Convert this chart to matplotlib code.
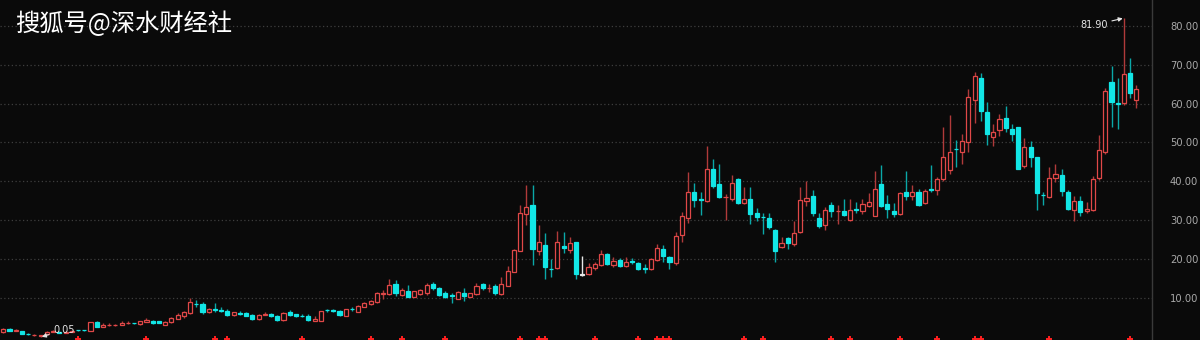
import matplotlib
matplotlib.use("Agg")
import matplotlib.pyplot as plt
import numpy as np

# ---- data ----
opens = [1.3, 2.0, 1.6, 1.5, 0.8, 0.4, 0.3, 0.8, 1.3, 1.4, 1.1, 1.4, 1.8, 1.8, 1.6, 3.9, 2.7, 3.0, 3.0, 3.2,
         3.5, 3.6, 3.3, 3.9, 4.2, 4.0, 3.1, 3.9, 4.7, 5.3, 6.1, 8.6, 8.5, 6.3, 7.2, 7.0, 6.8, 5.6, 6.2, 6.1,
         5.6, 4.6, 5.7, 5.9, 5.4, 4.4, 6.3, 5.8, 5.5, 5.5, 4.2, 4.2, 7.0, 6.9, 6.8, 5.4, 7.2, 6.5, 7.8, 8.4,
         8.9, 11.1, 11.0, 13.6, 10.8, 11.9, 10.4, 11.0, 11.4, 13.6, 12.5, 11.2, 10.7, 9.8, 11.4, 10.4, 11.0, 13.6, 12.5, 13.1,
         11.0, 13.2, 16.8, 22.2, 31.5, 33.9, 22.1, 23.7, 17.6, 17.8, 23.4, 22.4, 24.3, 16.0, 16.2, 17.7, 18.5, 21.3, 18.5, 19.8,
         18.3, 19.6, 19.1, 17.8, 17.5, 19.8, 22.6, 20.6, 19.1, 26.2, 30.5, 37.4, 35.6, 35.0, 43.1, 39.3, 35.9, 35.6, 40.6, 34.5,
         35.4, 31.8, 30.9, 30.5, 27.5, 23.2, 25.4, 23.9, 27.1, 35.0, 36.2, 30.5, 28.8, 33.9, 32.3, 32.4, 30.2, 32.8, 32.4, 33.8,
         31.1, 39.3, 34.2, 32.4, 31.5, 37.2, 36.2, 37.2, 34.4, 38.0, 37.8, 40.5, 42.9, 48.4, 47.6, 50.2, 60.8, 66.5, 57.9, 51.5,
         53.2, 56.2, 53.5, 53.9, 44.0, 48.8, 46.2, 36.6, 36.1, 40.8, 41.6, 37.4, 32.6, 35.0, 32.5, 32.6, 40.8, 47.6, 65.6, 60.2,
         60.2, 67.8, 60.9]
highs = [2.2, 2.2, 2.1, 1.6, 1.0, 0.7, 0.6, 1.5, 1.8, 1.5, 1.5, 1.8, 1.9, 1.9, 3.9, 4.2, 3.6, 3.5, 3.4, 4.0,
         4.2, 3.7, 4.2, 5.0, 4.4, 4.2, 4.1, 5.2, 6.2, 6.7, 9.9, 9.5, 9.0, 7.4, 8.8, 7.6, 7.3, 6.5, 6.8, 6.3,
         5.8, 5.9, 6.3, 6.2, 5.6, 6.4, 6.9, 6.0, 5.8, 6.0, 5.4, 6.8, 7.2, 7.2, 7.0, 7.3, 7.6, 8.2, 9.0, 9.6,
         11.6, 12.0, 14.8, 14.6, 12.6, 13.4, 11.9, 12.4, 14.0, 14.1, 12.9, 11.9, 11.2, 11.8, 12.5, 11.4, 14.0, 13.8, 13.6, 13.6,
         15.4, 18.3, 22.5, 33.9, 39.1, 39.1, 28.8, 26.8, 20.0, 27.3, 27.1, 25.6, 24.5, 20.8, 18.9, 19.4, 22.4, 21.6, 20.5, 20.3,
         20.5, 20.2, 19.3, 18.8, 20.3, 23.9, 23.6, 20.8, 27.1, 32.2, 42.5, 39.7, 37.4, 49.1, 45.7, 44.4, 36.7, 41.6, 40.8, 38.6,
         38.6, 33.1, 31.8, 31.8, 27.7, 25.6, 25.6, 29.9, 38.5, 40.2, 37.9, 31.8, 33.5, 34.8, 33.9, 35.6, 35.6, 34.8, 35.4, 37.1,
         42.7, 44.2, 36.5, 34.4, 37.3, 42.7, 39.1, 38.1, 38.1, 44.2, 41.2, 54.1, 57.1, 50.6, 52.2, 63.7, 68.0, 67.8, 60.5, 54.8,
         57.3, 59.3, 54.8, 54.0, 51.1, 50.4, 46.4, 37.4, 43.7, 44.5, 43.1, 37.8, 36.2, 36.2, 34.6, 41.5, 51.8, 63.9, 69.7, 66.5,
         81.9, 71.8, 64.8]
lows = [1.1, 1.5, 1.5, 0.8, 0.6, 0.3, 0.05, 0.7, 1.2, 1.0, 1.0, 1.3, 1.6, 1.6, 1.5, 2.6, 2.6, 2.9, 2.9, 3.1,
        3.4, 3.4, 3.2, 3.8, 3.4, 3.5, 3.0, 3.7, 4.5, 5.0, 6.0, 7.8, 5.8, 6.2, 6.5, 6.3, 5.5, 5.4, 5.6, 5.3,
        4.4, 4.4, 5.6, 5.2, 4.0, 4.2, 5.5, 5.2, 5.2, 4.0, 4.1, 4.1, 6.5, 6.5, 5.5, 5.3, 6.7, 6.4, 7.7, 8.3,
        8.8, 9.8, 10.9, 10.5, 10.6, 10.2, 10.3, 10.7, 10.9, 12.1, 10.6, 10.0, 8.8, 9.7, 9.3, 10.3, 10.9, 12.2, 11.5, 10.8,
        10.9, 13.0, 16.6, 22.0, 28.8, 18.5, 21.1, 14.8, 15.3, 17.5, 21.5, 21.7, 14.8, 15.6, 16.0, 17.2, 18.3, 18.5, 18.1, 18.0,
        18.1, 18.8, 17.2, 16.4, 17.3, 19.5, 19.4, 17.6, 18.5, 24.3, 29.2, 33.5, 31.4, 34.8, 38.4, 35.8, 30.1, 35.0, 34.2, 34.2,
        29.0, 29.9, 26.5, 27.7, 19.4, 22.9, 22.5, 23.5, 26.8, 33.7, 31.1, 27.9, 27.5, 30.8, 29.0, 31.2, 29.9, 31.8, 31.6, 33.5,
        31.0, 33.5, 30.5, 30.9, 31.3, 35.2, 35.2, 33.6, 34.1, 37.4, 36.5, 40.0, 42.0, 43.8, 44.6, 47.6, 55.1, 55.4, 49.4, 49.1,
        51.7, 52.8, 50.5, 43.2, 43.4, 43.6, 32.7, 33.9, 35.8, 39.8, 36.2, 32.6, 29.9, 31.0, 31.8, 32.4, 40.4, 47.0, 54.1, 53.4,
        59.7, 61.4, 58.8]
closes = [2.0, 1.6, 1.9, 0.9, 0.7, 0.6, 0.5, 1.4, 1.6, 1.1, 1.4, 1.6, 1.7, 1.7, 3.8, 2.7, 3.0, 3.2, 3.2, 3.6,
          3.7, 3.5, 4.0, 4.3, 3.6, 3.6, 3.9, 5.0, 5.6, 6.3, 8.9, 8.4, 6.5, 7.1, 7.0, 6.8, 5.7, 6.3, 6.0, 5.5,
          4.5, 5.7, 5.9, 5.4, 4.4, 6.2, 5.7, 5.4, 5.4, 4.4, 4.6, 6.7, 6.9, 6.8, 5.7, 7.1, 7.1, 8.0, 8.8, 9.3,
          11.4, 11.3, 13.4, 11.4, 12.1, 10.4, 11.7, 12.1, 13.4, 12.5, 10.8, 10.4, 10.5, 11.5, 10.6, 11.2, 13.2, 12.5, 12.7, 11.2,
          13.6, 17.0, 22.3, 31.8, 33.3, 22.5, 24.3, 17.9, 17.4, 24.3, 23.0, 24.1, 16.2, 16.0, 17.9, 18.8, 21.3, 18.7, 19.6, 18.3,
          19.4, 19.4, 17.4, 17.6, 20.0, 22.8, 20.7, 19.3, 26.0, 31.1, 37.4, 35.2, 35.2, 43.1, 38.8, 36.1, 36.1, 39.7, 34.5, 35.5,
          31.6, 30.8, 30.8, 28.2, 22.2, 24.1, 24.1, 26.8, 35.2, 35.8, 31.8, 28.5, 32.6, 32.5, 32.4, 31.4, 32.6, 32.6, 34.1, 34.6,
          38.1, 33.8, 32.8, 31.5, 37.1, 36.2, 37.2, 33.9, 37.6, 37.8, 40.5, 46.2, 47.6, 48.2, 50.5, 61.6, 67.1, 58.2, 52.2, 52.8,
          56.0, 53.8, 52.3, 43.3, 48.8, 46.4, 36.9, 36.5, 41.0, 41.9, 37.6, 32.8, 35.0, 32.2, 32.8, 40.5, 48.1, 63.3, 60.5, 59.8,
          67.6, 62.8, 63.7]
# candles carrying the small red signal mark at the bottom edge
signal_idx = [12, 23, 34, 36, 48, 59, 64, 71, 83, 86, 87, 95, 102, 105, 106, 107, 119, 122,
              133, 136, 144, 150, 156, 157, 168, 181]
y_ticks = [10, 20, 30, 40, 50, 60, 70, 80]
title = "搜狐号@深水财经社"
max_label = "81.90"
min_label = "0.05"

# ---- styling ----
BG = "#0a0a0a"
UP = "#e04848"
UP_WICK = "#b03a3a"
DN = "#12e6e6"
DN_WICK = "#0aa8a8"
FLAT = "#e8e8e8"

o = np.array(opens); h = np.array(highs); l = np.array(lows); c = np.array(closes)
n = len(o)
x = np.arange(n)

fig = plt.figure(figsize=(12, 3.4), dpi=100, facecolor=BG)
ax = fig.add_axes([0, 0, 1152 / 1200, 1], facecolor=BG)

body_col, wick_col, face_col = [], [], []
for oi, ci in zip(o, c):
    if abs(ci - oi) < 1e-9:
        body_col.append(FLAT); wick_col.append(FLAT); face_col.append(FLAT)
    elif ci > oi:
        body_col.append(UP); wick_col.append(UP_WICK); face_col.append(BG)
    else:
        body_col.append(DN); wick_col.append(DN_WICK); face_col.append(DN)

ax.vlines(x, l, h, colors=wick_col, lw=1.0, zorder=2)
bottoms = np.minimum(o, c)
heights = np.maximum(np.abs(c - o), 0.12)
ax.bar(x, heights, bottom=bottoms, width=0.66, color=face_col, edgecolor=body_col,
       linewidth=0.9, zorder=3)

# signal marks at the bottom edge
ax.plot(signal_idx, [-0.6] * len(signal_idx), linestyle="none", marker="+",
        ms=4, mew=1.4, color="#ff2020", zorder=4, clip_on=True)

# grid
for yv in y_ticks:
    ax.axhline(yv, color="#3e3e3e", lw=0.9, linestyle=(0, (1, 2)), zorder=1)

ax.set_xlim(-0.53, 184.5)
ax.set_ylim(-0.77, 86.63)
ax.set_xticks([])
ax.set_yticks(y_ticks)
ax.set_yticklabels([f"{v:.2f}" for v in y_ticks])
ax.yaxis.tick_right()
ax.tick_params(axis="y", length=0, pad=13, labelsize=7.2, labelcolor="#a8a8a8")
for lab in ax.get_yticklabels():
    lab.set_family("DejaVu Sans")
for side in ["top", "bottom", "left"]:
    ax.spines[side].set_visible(False)
ax.spines["right"].set_color("#3a3a3a")
ax.spines["right"].set_linewidth(1.0)

# max / min annotations
imax = int(np.argmax(h)); imin = int(np.argmin(l))
ax.annotate(max_label, xy=(imax - 0.2, h[imax]), xytext=(imax - 2.6, h[imax] - 1.7),
            ha="right", va="center", fontsize=7, color="#e6e6e6",
            arrowprops=dict(arrowstyle="-|>", color="#e6e6e6", lw=0.8,
                            shrinkA=1, shrinkB=0, mutation_scale=6), zorder=5)
ax.annotate(min_label, xy=(imin + 0.2, l[imin]), xytext=(imin + 2.0, 1.8),
            ha="left", va="center", fontsize=7, color="#e6e6e6",
            arrowprops=dict(arrowstyle="-|>", color="#e6e6e6", lw=0.8,
                            shrinkA=1, shrinkB=0, mutation_scale=6), zorder=5)

fig.text(15 / 1200, 1 - 24 / 340, title, ha="left", va="center", fontsize=17.5,
         color="white", family=["Noto Sans CJK SC", "DejaVu Sans"])

fig.savefig("out.png", dpi=100, facecolor=BG)
